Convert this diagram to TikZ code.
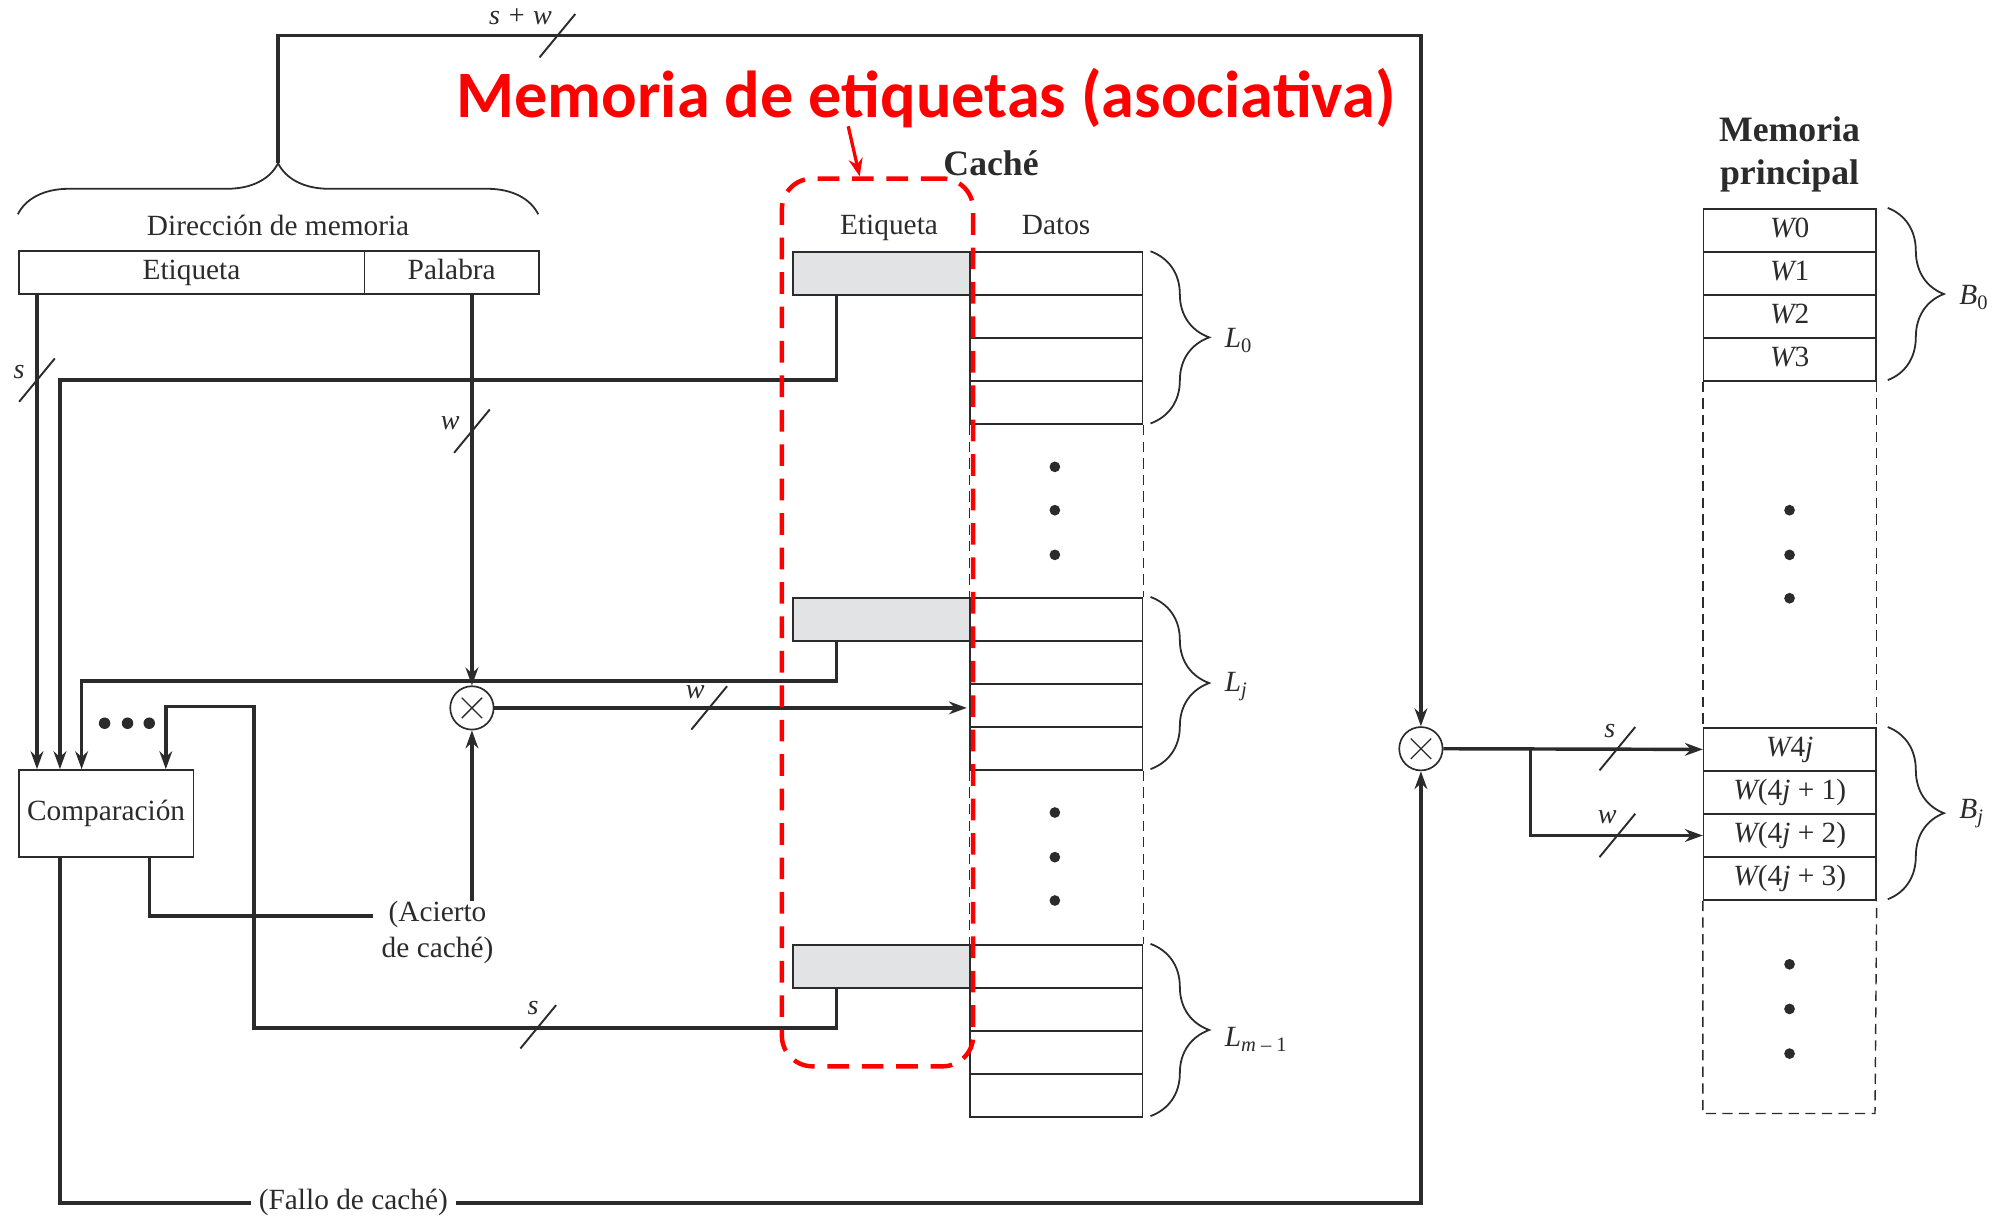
\documentclass[tikz,border=0pt]{standalone}
\usepackage{fontspec}
\setmainfont{Liberation Serif}
\newfontfamily\redfont{Carlito}
\usetikzlibrary{arrows.meta,decorations.pathreplacing,calc}
\definecolor{ink}{HTML}{2B2B2B}
\definecolor{tagfill}{HTML}{E2E3E5}
\definecolor{redmark}{HTML}{FF0000}
\newcommand{\busslash}[1]{\draw[slashline] ($(#1)+(-14,17)$) -- ($(#1)+(14,-17)$);}
\begin{document}
\begin{tikzpicture}[x=1pt,y=-1pt,
  every node/.style={font=\fontsize{23}{28}\selectfont, inner sep=0pt, text=ink},
  conn/.style={line width=2.7pt, draw=ink},
  arr/.style={-{Stealth[length=14pt,width=10pt]}},
  boxline/.style={line width=1.3pt, draw=ink},
  cell/.style={boxline, minimum width=135pt, minimum height=33.75pt, anchor=north west,
               text height=15pt, text depth=4pt},
  dashside/.style={line width=1.1pt, draw=ink, dash pattern=on 8pt off 5pt},
  bracestyle/.style={line width=1.4pt, draw=ink, decorate},
  slashline/.style={line width=1.5pt, draw=ink},
  lbl/.style={font=\fontsize{22}{26}\selectfont\itshape},
  mux/.style={circle, boxline, minimum size=34pt, fill=white},
  dot/.style={fill=ink},
  hdr/.style={text height=15pt, text depth=4pt},
]
\useasboundingbox (0,0) rectangle (1568,956);

% ---------- address register ----------
\node[cell, minimum width=271pt, minimum height=34pt] (regTag) at (14,196) {Etiqueta};
\node[cell, minimum width=137pt, minimum height=34pt] (regWord) at (285,196) {Palabra};
\node (dirlbl) at (218,177) {Dirección de memoria};
\draw[bracestyle, decoration={brace, amplitude=40pt}] (14,168) -- (422,168);
\coordinate (bt) at (218,128);

% ---------- comparator & mux ----------
\node[cell, minimum width=137pt, minimum height=68pt] (comp) at (14,603) {Comparación};
\node[mux] (mux1) at (370,555) {};
\node[mux] (mux2) at (1114,587) {};
\foreach \m in {mux1,mux2}{
  \draw[line width=1pt, draw=ink] ($(\m.center)+(-8,-8)$) -- ($(\m.center)+(8,8)$);
  \draw[line width=1pt, draw=ink] ($(\m.center)+(-8,8)$) -- ($(\m.center)+(8,-8)$);
}

% ---------- cache ----------
\node[font=\fontsize{28}{32}\selectfont\bfseries] (cachelbl) at (777,128) {Caché};
\node[hdr] (etqlbl) at (697,178) {Etiqueta};
\node[hdr] (datlbl) at (828,178) {Datos};
\foreach \n/\y in {0/197, j/468, m/740}{
  \node[cell, fill=tagfill, minimum width=139pt] (tag\n) at (621,\y) {};
  \foreach \k in {0,...,3}{
    \node[cell] (d\n\k) at (760,{\y+\k*33.75}) {};
  }
}
\draw[dashside] (d03.south west) -- (dj0.north west);
\draw[dashside] (d03.south east) -- (dj0.north east);
\draw[dashside] (dj3.south west) -- (dm0.north west);
\draw[dashside] (dj3.south east) -- (dm0.north east);
\foreach \y in {366,400,435,637,672,706}{ \fill[dot] (827,\y) circle (4.2pt); }

\draw[bracestyle, decoration={brace, amplitude=46pt}] (902,197) -- (902,332);
\draw[bracestyle, decoration={brace, amplitude=46pt}] (902,468) -- (902,603);
\draw[bracestyle, decoration={brace, amplitude=46pt}] (902,740) -- (902,875);
\node[anchor=west] (lL0) at (960,267) {{\itshape L}\textsubscript{0}};
\node[anchor=west] (lLj) at (960,538) {{\itshape L}\textsubscript{\itshape j}};
\node[anchor=west] (lLm) at (960,815) {{\itshape L}\textsubscript{{\itshape m} – 1}};

% ---------- main memory ----------
\node[font=\fontsize{28}{34}\selectfont\bfseries, align=center] (mplbl) at (1403,121) {Memoria\\principal};
\node[cell] (mw0) at (1335,163) {{\itshape W}0};
\node[cell] (mw1) at (1335,196.75) {{\itshape W}1};
\node[cell] (mw2) at (1335,230.5) {{\itshape W}2};
\node[cell] (mw3) at (1335,264.25) {{\itshape W}3};
\node[cell] (mb0) at (1335,570) {{\itshape W}4{\itshape j}};
\node[cell] (mb1) at (1335,603.75) {{\itshape W}(4{\itshape j} + 1)};
\node[cell] (mb2) at (1335,637.5) {{\itshape W}(4{\itshape j} + 2)};
\node[cell] (mb3) at (1335,671.25) {{\itshape W}(4{\itshape j} + 3)};
\coordinate (mbotL) at (1335,873);
\coordinate (mbotR) at (1470,873);
\draw[dashside] (mw3.south west) -- (mb0.north west);
\draw[dashside] (mw3.south east) -- (mb0.north east);
\draw[dashside] (mb3.south west) -- (mbotL) -- (mbotR) -- (mb3.south east);
\foreach \y in {400,435,469,756,791,826}{ \fill[dot] (1403,\y) circle (4.2pt); }
\draw[bracestyle, decoration={brace, amplitude=44pt}] (1480,163) -- (1480,298);
\draw[bracestyle, decoration={brace, amplitude=44pt}] (1480,570) -- (1480,705);
\node[anchor=west] (lB0) at (1536,233) {{\itshape B}\textsubscript{0}};
\node[anchor=west] (lBj) at (1536,638) {{\itshape B}\textsubscript{\itshape j}};

% ---------- labels ----------
\node[inner xsep=7pt, align=center] (acierto) at (343,731) {(Acierto\\de caché)};
\node[inner xsep=6pt] (fallo) at (277,943) {(Fallo de caché)};

% ---------- connectors ----------
\draw[conn,arr] ([xshift=15pt]regTag.south west) -- ([xshift=15pt]comp.north west);
\draw[conn,arr] ([xshift=35pt]tag0.south west) -- ++(0,66) -| ([xshift=33pt]comp.north west);
\draw[conn,arr] ([xshift=35pt]tagj.south west) -- ++(0,31) -| ([xshift=50pt]comp.north west);
\draw[conn,arr] ([xshift=35pt]tagm.south west) -- ++(0,31) -- ++(-457,0) -- ++(0,-252) -| ([xshift=116pt]comp.north west);
\draw[conn,arr] (mux1.north |- regWord.south) -- (mux1.north);
\draw[conn,arr,shorten >=2pt] (mux1.east) -- (dj2.west |- mux1.east);
\draw[conn] ([xshift=103pt]comp.south west) |- ([yshift=13pt]acierto.west);
\draw[conn,arr] (mux1.south |- acierto.north) -- (mux1.south);
\draw[conn] ([xshift=33pt]comp.south west) |- (fallo.west);
\draw[conn,arr] (fallo.east) -| (mux2.south);
\draw[conn,arr] (bt) -- ++(0,-100) -| (mux2.north);
\draw[conn,arr] (mux2.east) -- (mb0.west);
\coordinate (br) at (1200,587);
\draw[conn,arr] (br) |- (mb2.west);
\foreach \x in {82,100,117}{ \fill[dot] (\x,567) circle (4.5pt); }

% ---------- bus slashes ----------
\coordinate (s1) at (437,28);   \busslash{s1}
\coordinate (s2) at (29,298);   \busslash{s2}
\coordinate (s3) at (370,338);  \busslash{s3}
\coordinate (s4) at (556,555);  \busslash{s4}
\coordinate (s5) at (422,805);  \busslash{s5}
\coordinate (s6) at (1268,587); \busslash{s6}
\coordinate (s7) at (1268,655); \busslash{s7}
\node[lbl] (l1) at (408,13) {s + w};
\node[lbl] (l2) at (15,292) {s};
\node[lbl] (l3) at (353,332) {w};
\node[lbl] (l4) at (545,543) {w};
\node[lbl] (l5) at (418,790) {s};
\node[lbl] (l6) at (1262,573) {s};
\node[lbl] (l7) at (1260,641) {w};

% ---------- red annotation ----------
\node[draw=redmark, line width=3.5pt, dash pattern=on 17pt off 10pt, rounded corners=24pt,
      minimum width=150pt, minimum height=696pt] (assoc) at (688,488) {};
\node[font=\redfont\bfseries\fontsize{52}{60}\selectfont, text=redmark, anchor=base] (title) at (726,92) {Memoria de etiquetas (asociativa)};
\coordinate (ra) at (665,99);
\draw[draw=redmark, line width=2.6pt, -{Stealth[length=14pt,width=11pt]}] (ra) -- ([xshift=-14pt]assoc.north);
\end{tikzpicture}
\end{document}
